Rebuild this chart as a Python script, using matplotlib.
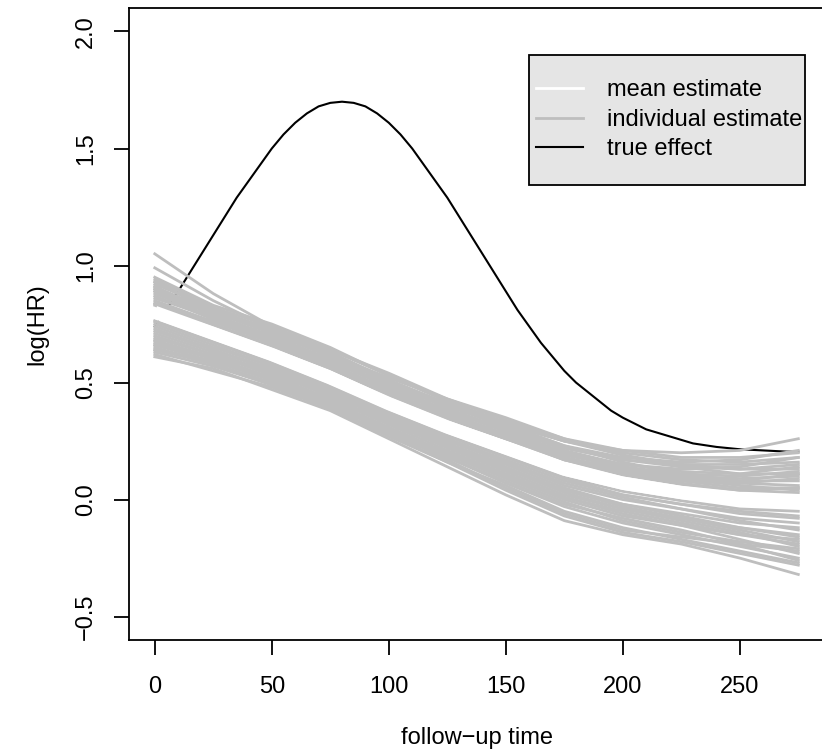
import matplotlib
matplotlib.use("Agg")
from matplotlib import pyplot as plt
from matplotlib.lines import Line2D
from matplotlib.patches import Rectangle

plt.rcParams['font.family'] = ['Liberation Sans', 'DejaVu Sans']

# knots of follow-up time where the estimates were read
knots = [0, 25, 50, 75, 100, 125, 150, 175, 200, 225, 250, 275]

# mean estimate (white band)
mean_est = [0.80, 0.71, 0.62, 0.52, 0.41, 0.31, 0.22, 0.13, 0.07, 0.03, 0.00, -0.01]

# individual estimates, upper group
upper_est = [
    [1.05, 0.88, 0.74, 0.63, 0.51, 0.40, 0.32, 0.25, 0.21, 0.20, 0.21, 0.26],
    [0.99, 0.85, 0.73, 0.64, 0.53, 0.42, 0.32, 0.23, 0.18, 0.16, 0.17, 0.21],
    [0.95, 0.83, 0.75, 0.65, 0.53, 0.42, 0.33, 0.25, 0.20, 0.17, 0.16, 0.18],
    [0.94, 0.82, 0.74, 0.64, 0.54, 0.43, 0.34, 0.26, 0.21, 0.18, 0.18, 0.20],
    [0.93, 0.81, 0.72, 0.63, 0.51, 0.41, 0.33, 0.25, 0.19, 0.15, 0.13, 0.13],
    [0.92, 0.82, 0.71, 0.61, 0.50, 0.39, 0.30, 0.22, 0.17, 0.14, 0.13, 0.15],
    [0.91, 0.80, 0.72, 0.62, 0.50, 0.40, 0.32, 0.23, 0.16, 0.11, 0.08, 0.08],
    [0.90, 0.79, 0.70, 0.59, 0.49, 0.40, 0.31, 0.21, 0.15, 0.12, 0.11, 0.14],
    [0.89, 0.79, 0.69, 0.60, 0.49, 0.38, 0.29, 0.20, 0.15, 0.13, 0.14, 0.18],
    [0.88, 0.78, 0.70, 0.60, 0.48, 0.37, 0.28, 0.20, 0.14, 0.10, 0.07, 0.06],
    [0.87, 0.77, 0.68, 0.58, 0.47, 0.38, 0.30, 0.20, 0.13, 0.09, 0.08, 0.11],
    [0.86, 0.78, 0.69, 0.58, 0.46, 0.36, 0.28, 0.19, 0.14, 0.11, 0.10, 0.12],
    [0.85, 0.76, 0.67, 0.57, 0.47, 0.37, 0.27, 0.18, 0.12, 0.09, 0.06, 0.04],
    [0.84, 0.76, 0.68, 0.59, 0.48, 0.37, 0.27, 0.17, 0.11, 0.08, 0.07, 0.09],
    [0.835, 0.75, 0.66, 0.56, 0.45, 0.36, 0.27, 0.18, 0.11, 0.07, 0.04, 0.03],
    [0.83, 0.745, 0.655, 0.56, 0.445, 0.345, 0.26, 0.17, 0.105, 0.065, 0.04, 0.05],
    [0.93, 0.80, 0.71, 0.62, 0.52, 0.43, 0.35, 0.26, 0.19, 0.14, 0.11, 0.11],
    [0.90, 0.81, 0.73, 0.62, 0.51, 0.41, 0.31, 0.22, 0.17, 0.15, 0.15, 0.16],
    [0.91, 0.79, 0.68, 0.57, 0.46, 0.35, 0.26, 0.18, 0.13, 0.10, 0.09, 0.10],
    [0.89, 0.77, 0.67, 0.57, 0.45, 0.35, 0.26, 0.17, 0.12, 0.08, 0.05, 0.05],
]

# individual estimates, lower group
lower_est = [
    [0.61, 0.56, 0.47, 0.38, 0.26, 0.14, 0.02, -0.09, -0.15, -0.19, -0.25, -0.32],
    [0.62, 0.55, 0.48, 0.39, 0.28, 0.16, 0.04, -0.07, -0.14, -0.18, -0.23, -0.28],
    [0.63, 0.57, 0.49, 0.39, 0.27, 0.16, 0.06, -0.05, -0.12, -0.17, -0.22, -0.27],
    [0.64, 0.58, 0.50, 0.40, 0.29, 0.18, 0.07, -0.03, -0.10, -0.15, -0.20, -0.25],
    [0.65, 0.58, 0.49, 0.40, 0.30, 0.19, 0.09, -0.01, -0.09, -0.14, -0.18, -0.21],
    [0.66, 0.59, 0.51, 0.41, 0.30, 0.20, 0.10, 0.00, -0.07, -0.11, -0.15, -0.17],
    [0.67, 0.60, 0.52, 0.42, 0.31, 0.20, 0.10, 0.01, -0.05, -0.10, -0.15, -0.19],
    [0.68, 0.61, 0.52, 0.43, 0.32, 0.21, 0.11, 0.01, -0.06, -0.11, -0.17, -0.23],
    [0.69, 0.62, 0.53, 0.43, 0.33, 0.22, 0.12, 0.02, -0.04, -0.08, -0.12, -0.15],
    [0.70, 0.62, 0.54, 0.44, 0.33, 0.23, 0.13, 0.04, -0.03, -0.08, -0.13, -0.18],
    [0.71, 0.63, 0.54, 0.45, 0.34, 0.24, 0.14, 0.04, -0.02, -0.06, -0.10, -0.12],
    [0.72, 0.64, 0.55, 0.45, 0.35, 0.24, 0.15, 0.05, -0.02, -0.07, -0.12, -0.16],
    [0.73, 0.64, 0.56, 0.46, 0.35, 0.25, 0.16, 0.06, 0.00, -0.04, -0.08, -0.10],
    [0.74, 0.65, 0.57, 0.47, 0.36, 0.26, 0.16, 0.07, 0.01, -0.04, -0.09, -0.13],
    [0.75, 0.66, 0.57, 0.47, 0.36, 0.26, 0.17, 0.08, 0.02, -0.02, -0.06, -0.08],
    [0.76, 0.67, 0.58, 0.48, 0.37, 0.27, 0.18, 0.09, 0.02, -0.02, -0.05, -0.07],
    [0.765, 0.675, 0.585, 0.485, 0.375, 0.275, 0.185, 0.095, 0.035, -0.005, -0.04, -0.05],
    [0.64, 0.59, 0.52, 0.42, 0.29, 0.17, 0.05, -0.06, -0.13, -0.16, -0.19, -0.22],
    [0.68, 0.60, 0.51, 0.41, 0.29, 0.18, 0.08, -0.02, -0.08, -0.13, -0.19, -0.26],
    [0.66, 0.61, 0.55, 0.46, 0.34, 0.23, 0.13, 0.03, -0.04, -0.09, -0.14, -0.20],
]

# true effect
true_t = [0, 5, 10, 15, 20, 25, 30, 35, 40, 45, 50, 55, 60, 65, 70, 75, 80,
          85, 90, 95, 100, 105, 110, 115, 120, 125, 130, 135, 140, 145, 150,
          155, 160, 165, 170, 175, 180, 185, 190, 195, 200, 210, 220, 230,
          240, 250, 260, 270, 275]
true_eff = [0.74, 0.81, 0.89, 0.97, 1.05, 1.13, 1.21, 1.29, 1.36, 1.43, 1.50,
            1.56, 1.61, 1.65, 1.68, 1.695, 1.70, 1.695, 1.68, 1.65, 1.61,
            1.56, 1.50, 1.43, 1.36, 1.29, 1.21, 1.13, 1.05, 0.97, 0.89, 0.81,
            0.74, 0.67, 0.61, 0.55, 0.50, 0.46, 0.42, 0.38, 0.35, 0.30, 0.27,
            0.24, 0.225, 0.215, 0.21, 0.205, 0.205]

GRAY = '#bebebe'
FS = 17

fig = plt.figure(figsize=(8.22, 7.55), dpi=100)
ax = fig.add_axes([0.157, 0.1523, 0.8455, 0.837])

# true effect goes underneath the estimates
ax.plot(true_t, true_eff, c='black', lw=1.5, zorder=1)
for curve in upper_est + lower_est:
    ax.plot(knots, curve, c=GRAY, lw=2.0, zorder=2)
ax.plot(knots, mean_est, c='white', lw=9.5, zorder=3, solid_capstyle='butt')

ax.set_xlim(-11, 286)
ax.set_ylim(-0.6, 2.1)
ax.set_xticks([0, 50, 100, 150, 200, 250])
ax.set_yticks([-0.5, 0.0, 0.5, 1.0, 1.5, 2.0])
ax.tick_params(axis='both', which='major', labelsize=FS, length=11, width=1.3, pad=12)
ax.tick_params(axis='x', pad=15)
for lab in ax.get_yticklabels():
    lab.set_rotation(90)
    lab.set_va('center')

for sp in ax.spines.values():
    sp.set_linewidth(1.3)

ax.set_xlabel('follow\u2212up time', fontsize=FS, labelpad=21)
ax.set_ylabel('log(HR)', fontsize=FS, labelpad=19)

# legend box
ax.add_patch(Rectangle((0.5755, 0.72), 0.3972, 0.2056, transform=ax.transAxes,
                       facecolor='#e5e5e5', edgecolor='black', lw=1.3, zorder=4))
handles = [Line2D([], [], c='white', lw=2),
           Line2D([], [], c=GRAY, lw=2),
           Line2D([], [], c='black', lw=1.5)]
leg = ax.legend(handles, ['mean estimate', 'individual estimate', 'true effect'],
                loc='center left', bbox_to_anchor=(0.575, 0.823), frameon=False,
                fontsize=FS, handlelength=2.0, handletextpad=1.0,
                labelspacing=0.32, borderaxespad=0, borderpad=0.3)
leg.set_zorder(5)

fig.savefig('out.png', dpi=100)
